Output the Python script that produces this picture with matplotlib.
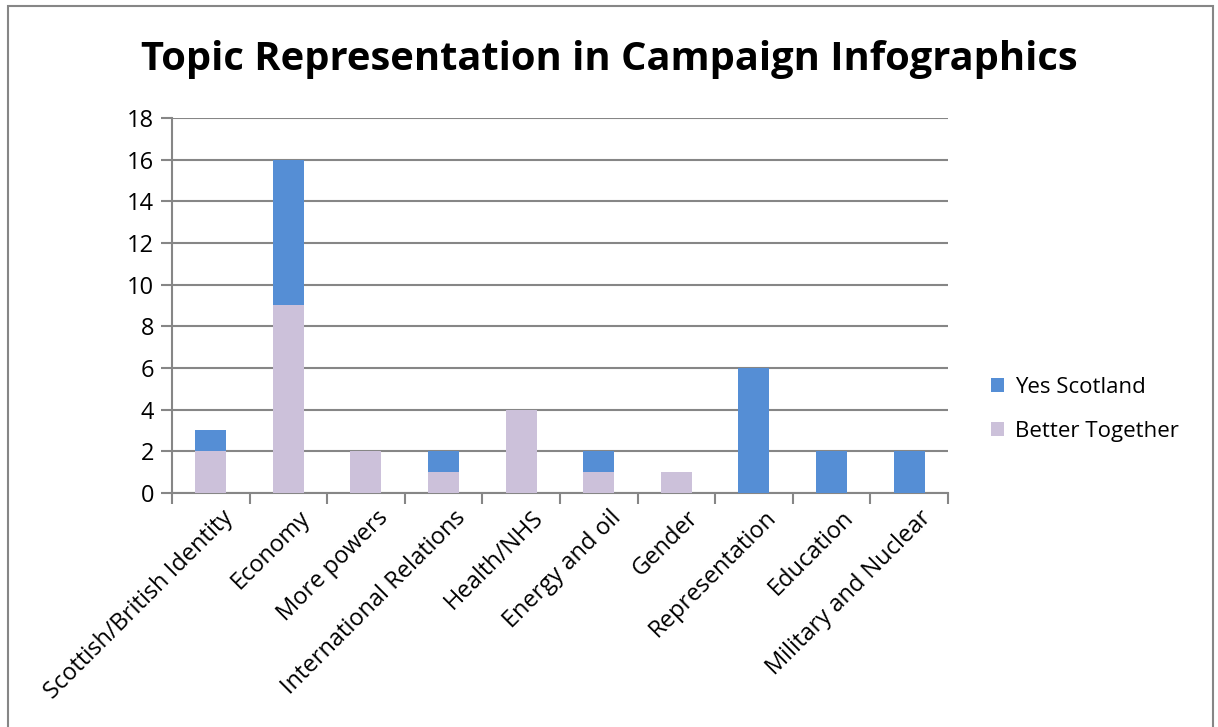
import matplotlib.pyplot as plt
from matplotlib.patches import Rectangle
from matplotlib.transforms import ScaledTranslation
import numpy as np

topics = ['Scottish/British Identity', 'Economy', 'More powers', 'International Relations',
          'Health/NHS', 'Energy and oil', 'Gender', 'Representation', 'Education',
          'Military and Nuclear']
better_together = [2, 9, 2, 1, 4, 1, 1, 0, 0, 0]
yes_scotland = [1, 7, 0, 1, 0, 1, 0, 6, 2, 2]

plt.rcParams['font.family'] = ['Open Sans', 'DejaVu Sans']

fig = plt.figure(figsize=(12.18, 7.27), dpi=100)
ax = fig.add_axes([0.1412, 0.3219, 0.6371, 0.5158])

x = np.arange(len(topics))
ax.bar(x, better_together, width=0.4, color='#CCC1DA', label='Better Together', zorder=3)
ax.bar(x, yes_scotland, width=0.4, bottom=better_together, color='#558ED5',
       label='Yes Scotland', zorder=3)

grid = '#868686'
ax.set_xlim(-0.5, len(topics) - 0.5)
ax.set_ylim(0, 18)
ax.set_yticks(range(0, 19, 2))
ax.yaxis.grid(True, color=grid, linewidth=1.5, zorder=0)
ax.tick_params(axis='y', labelsize=17, length=8, width=1.5, color=grid, pad=5)

# category ticks sit between the bars
ax.set_xticks(np.arange(-0.5, len(topics), 1.0))
ax.set_xticklabels([])
ax.set_xticks(x, minor=True)
ax.set_xticklabels(topics, minor=True, rotation=45, ha='right', rotation_mode='anchor',
                   fontsize=17)
ax.tick_params(axis='x', which='major', length=8, width=1.5, color=grid)
ax.tick_params(axis='x', which='minor', length=0, pad=9)
for lab in ax.get_xticklabels(minor=True):
    lab.set_transform(lab.get_transform() + ScaledTranslation(0.1, 0, fig.dpi_scale_trans))

for side in ['top', 'right']:
    ax.spines[side].set_visible(False)
for side in ['left', 'bottom']:
    ax.spines[side].set_color(grid)
    ax.spines[side].set_linewidth(1.5)

handles, labels = ax.get_legend_handles_labels()
fig.legend(handles[::-1], labels[::-1], loc='center left', bbox_to_anchor=(0.797, 0.437),
           frameon=False, fontsize=16, handlelength=0.6, handleheight=0.6,
           labelspacing=1.05, handletextpad=0.5)

fig.text(0.5, 0.918, 'Topic Representation in Campaign Infographics', ha='center',
         va='center', fontsize=28.7, fontweight='bold')

# outer chart frame
fig.patches.append(Rectangle((8 / 1218, -0.05), 1205 / 1218, 1.05 - 6 / 727,
                             transform=fig.transFigure, fill=False,
                             edgecolor='#868686', linewidth=1.5))

fig.savefig('out.png', dpi=100, facecolor='white')
